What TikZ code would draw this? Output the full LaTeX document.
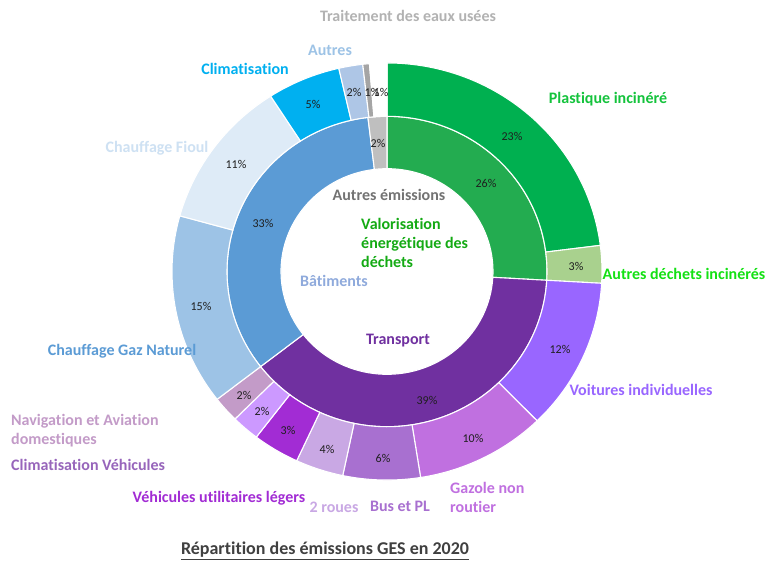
\documentclass[tikz,border=0pt]{standalone}
\usepackage{fontspec}
\setmainfont{Carlito}[Ligatures=NoCommon]
\usetikzlibrary{calc}

\definecolor{valor}{RGB}{35,172,80}
\definecolor{transp}{RGB}{112,48,160}
\definecolor{batim}{RGB}{91,155,213}
\definecolor{autrem}{RGB}{191,191,191}
\definecolor{plast}{RGB}{0,176,80}
\definecolor{dechet}{RGB}{169,209,142}
\definecolor{voit}{RGB}{153,102,255}
\definecolor{gazole}{RGB}{192,112,224}
\definecolor{bus}{RGB}{168,112,208}
\definecolor{roues}{RGB}{201,168,228}
\definecolor{vul}{RGB}{162,44,212}
\definecolor{climveh}{RGB}{204,153,255}
\definecolor{navig}{RGB}{195,155,200}
\definecolor{gaznat}{RGB}{157,195,230}
\definecolor{fioul}{RGB}{222,235,247}
\definecolor{clim}{RGB}{0,176,240}
\definecolor{autres}{RGB}{174,198,230}
\definecolor{eaux}{RGB}{165,165,165}

% ring slice: [style](from:to:inner radius:outer radius), from/to in percent
\def\yr{0.97}
\def\ringslice[#1](#2:#3:#4:#5){\draw[#1] ({#5*cos(-90+3.6*#2)},{#5*\yr*sin(-90+3.6*#2)}) arc[start angle={-90+3.6*#2}, end angle={-90+3.6*#3}, x radius={#5}, y radius={#5*\yr}] -- ({#4*cos(-90+3.6*#3)},{#4*\yr*sin(-90+3.6*#3)}) arc[start angle={-90+3.6*#3}, end angle={-90+3.6*#2}, x radius={#4}, y radius={#4*\yr}] -- cycle;}

\tikzset{
	slice/.style={draw=white, line width=1.1pt},
	lbl/.style={font=\bfseries\fontsize{16}{19}\selectfont, inner sep=0pt},
	pct/.style={font=\fontsize{12}{14}\selectfont, text=black!88, inner sep=0pt},
}

\begin{document}
\begin{tikzpicture}[x=1pt, y=-1pt]
			%%%%% START %%%%%
			\useasboundingbox (0, 0) rectangle (766, 563);
			\fill[white] (0, 0) rectangle (766, 563);
			
			\begin{scope}[shift={(387, 271.5)}]
				% inner ring
				\ringslice[slice, fill=valor](0:25.9:106:160);
				\ringslice[slice, fill=transp](25.9:64.5:106:160);
				\ringslice[slice, fill=batim](64.5:98.1:106:160);
				\ringslice[slice, fill=autrem](98.1:100:106:160);
				
				% outer ring
				\ringslice[slice, fill=plast](0:23:160:215);
				\ringslice[slice, fill=dechet](23:25.9:160:215);
				\ringslice[slice, fill=voit](25.9:37.7:160:215);
				\ringslice[slice, fill=gazole](37.7:47.5:160:215);
				\ringslice[slice, fill=bus](47.5:53.3:160:215);
				\ringslice[slice, fill=roues](53.3:56.9:160:215);
				\ringslice[slice, fill=vul](56.9:60.4:160:215);
				\ringslice[slice, fill=climveh](60.4:62.5:160:215);
				\ringslice[slice, fill=navig](62.5:64.5:160:215);
				\ringslice[slice, fill=gaznat](64.5:79.3:160:215);
				\ringslice[slice, fill=fioul](79.3:90.9:160:215);
				\ringslice[slice, fill=clim](90.9:96.4:160:215);
				\ringslice[slice, fill=autres](96.4:98.2:160:215);
				\ringslice[slice, fill=eaux](98.2:98.7:160:215);
				\ringslice[slice, fill=white](98.7:100:160:215);
			\end{scope}
			
			% percentages
			\node[pct] (p-plast) at (512, 136) {23\%};
			\node[pct] (p-valor) at (486, 183) {26\%};
			\node[pct] (p-dechet) at (576, 266) {3\%};
			\node[pct] (p-voit) at (560, 349) {12\%};
			\node[pct] (p-transp) at (427, 400) {39\%};
			\node[pct] (p-gazole) at (473, 438) {10\%};
			\node[pct] (p-bus) at (383, 458) {6\%};
			\node[pct] (p-roues) at (327, 449) {4\%};
			\node[pct] (p-vul) at (288, 430) {3\%};
			\node[pct] (p-climveh) at (262, 411) {2\%};
			\node[pct] (p-navig) at (244, 395) {2\%};
			\node[pct] (p-gaznat) at (201, 306) {15\%};
			\node[pct] (p-batim) at (263, 223) {33\%};
			\node[pct] (p-fioul) at (236, 164) {11\%};
			\node[pct] (p-clim) at (313, 104) {5\%};
			\node[pct] (p-autres) at (354, 92) {2\%};
			\node[pct] (p-eaux) at (372, 92) {1\%};
			\node[pct] (p-blanc) at (381, 92) {1\%};
			\node[pct] (p-autrem) at (378, 143) {2\%};
			
			% outer labels
			\node[lbl, text=black!30] (l-eaux) at (408, 16) {Traitement des eaux usées};
			\node[lbl, text=gaznat] (l-autres) at (330, 50) {Autres};
			\node[lbl, text=clim] (l-clim) at (245, 69) {Climatisation};
			\node[lbl, text=fioul!75!gaznat] (l-fioul) at (157, 148) {Chauffage Fioul};
			\node[lbl, text=batim] (l-gaznat) at (122, 351) {Chauffage Gaz Naturel};
			\node[lbl, text=navig, anchor=north west, align=left] (l-navig) at (11, 414) {Navigation et Aviation\\domestiques};
			\node[lbl, text=bus!90!black, anchor=west] (l-climveh) at (11, 465) {Climatisation Véhicules};
			\node[lbl, text=vul] (l-vul) at (219, 498) {Véhicules utilitaires légers};
			\node[lbl, text=roues] (l-roues) at (334, 507) {2 roues};
			\node[lbl, text=bus] (l-bus) at (400, 506) {Bus et PL};
			\node[lbl, text=gazole, anchor=north west, align=left] (l-gazole) at (450, 482) {Gazole non\\routier};
			\node[lbl, text=voit] (l-voit) at (641, 390) {Voitures individuelles};
			\node[lbl, text={rgb,255:red,20;green,225;blue,20}] (l-dechet) at (684, 274) {Autres déchets incinérés};
			\node[lbl, text={rgb,255:red,20;green,195;blue,60}] (l-plast) at (608, 99) {Plastique incinéré};
			
			% centre labels
			\node[lbl, text=black!55] (l-autrem) at (389, 195) {Autres émissions};
			\node[lbl, text={rgb,255:red,20;green,170;blue,20}, anchor=north west, align=left] (l-valor) at (361, 218) {Valorisation\\énergétique des\\déchets};
			\node[lbl, text={rgb,255:red,143;green,170;blue,220}] (l-batim) at (334, 281) {Bâtiments};
			\node[lbl, text=transp] (l-transp) at (398, 341) {Transport};
			
			% title
			\node[lbl, text=black!75, font=\bfseries\fontsize{18}{21}\selectfont] (titre) at (325, 551) {\underline{Répartition des émissions GES en 2020}};
			%%%%% END %%%%%
\end{tikzpicture}
\end{document}
